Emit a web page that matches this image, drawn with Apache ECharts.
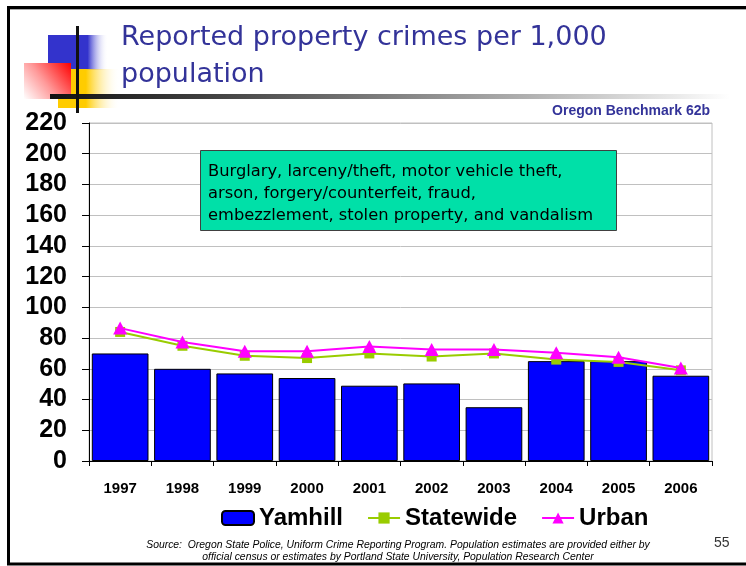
<!DOCTYPE html>
<html>
<head>
<meta charset="utf-8">
<script src="https://cdn.jsdelivr.net/npm/echarts@6/dist/echarts.min.js"></script>
<style>
  html, body { margin: 0; padding: 0; background: #fff; }
  #chart { width: 746px; height: 566px; }
</style>
</head>
<body>
<div id="chart"></div>
<script>
// Reported property crimes per 1,000 population, 1997-2006
const years = ['1997', '1998', '1999', '2000', '2001', '2002', '2003', '2004', '2005', '2006'];
const yamhill = [70, 60, 57, 54, 49, 50.5, 35, 65, 65, 55.5];
const statewide = [84, 75, 68.5, 67, 70, 68, 70, 66, 64.5, 59];
const urban = [86.5, 77.5, 71.5, 71.5, 74.5, 72.5, 72.5, 70.5, 67.5, 60.5];
const yTicks = { min: 0, max: 220, interval: 20 };

const titleLines = ['Reported property crimes per 1,000', 'population'];
const benchmark = 'Oregon Benchmark 62b';
const noteLines = [
  'Burglary, larceny/theft, motor vehicle theft,',
  'arson, forgery/counterfeit, fraud,',
  'embezzlement, stolen property, and vandalism'
];
const sourceLines = [
  'Source:  Oregon State Police, Uniform Crime Reporting Program. Population estimates are provided either by',
  'official census or estimates by Portland State University, Population Research Center'
];
const pageNumber = '55';

const SANS = '"Liberation Sans", Arial, sans-serif';
const HUMANIST = '"DejaVu Sans", Verdana, sans-serif';
const chart = echarts.init(document.getElementById('chart'), null, { renderer: 'canvas' });

const fadeRight = (color, stop) => ({
  type: 'linear', x: 0, y: 0, x2: 1, y2: 0,
  colorStops: [
    { offset: 0, color: color },
    { offset: stop, color: color },
    { offset: 1, color: 'rgba(255,255,255,0)' }
  ]
});

chart.setOption({
  animation: false,
  backgroundColor: '#ffffff',
  grid: {
    left: 89, right: 34, top: 123, bottom: 105,
    show: true, borderColor: '#c0c0c0', borderWidth: 1, backgroundColor: 'transparent'
  },
  legend: {
    left: 216, top: 501,
    itemWidth: 32, itemHeight: 14, itemGap: 24,
    textStyle: { fontFamily: SANS, fontSize: 24, fontWeight: 'bold', color: '#000' },
    data: ['Yamhill', 'Statewide', 'Urban']
  },
  xAxis: {
    type: 'category',
    data: years,
    axisLine: { lineStyle: { color: '#000', width: 1 } },
    axisTick: { show: true, length: 5, lineStyle: { color: '#000' } },
    axisLabel: { fontFamily: SANS, fontSize: 15, fontWeight: 'bold', color: '#000', margin: 20 }
  },
  yAxis: {
    type: 'value',
    min: yTicks.min, max: yTicks.max, interval: yTicks.interval,
    axisLine: { show: true, lineStyle: { color: '#000', width: 1 } },
    axisTick: { show: true, length: 7, lineStyle: { color: '#000' } },
    axisLabel: { fontFamily: SANS, fontSize: 25, fontWeight: 'bold', color: '#000', margin: 22 },
    splitLine: { lineStyle: { color: '#c0c0c0', width: 1 } }
  },
  series: [
    {
      name: 'Yamhill', type: 'bar', data: yamhill,
      barCategoryGap: '9%',
      itemStyle: { color: '#0000ff', borderColor: '#000', borderWidth: 1 },
      z: 2
    },
    {
      name: 'Statewide', type: 'line', data: statewide,
      symbol: 'rect', symbolSize: 10, showAllSymbol: true,
      lineStyle: { color: '#99cc00', width: 2 },
      itemStyle: { color: '#99cc00' },
      z: 3
    },
    {
      name: 'Urban', type: 'line', data: urban,
      symbol: 'triangle', symbolSize: [14, 13], showAllSymbol: true,
      lineStyle: { color: '#ff00ff', width: 2 },
      itemStyle: { color: '#ff00ff' },
      z: 4
    }
  ],
  graphic: [
    // slide frame
    { type: 'polyline', silent: true, shape: { points: [[746, 7.5], [8.5, 7.5], [8.5, 564], [746, 564]] },
      style: { stroke: '#000', lineWidth: 3, fill: null } },
    { type: 'line', silent: true, shape: { x1: 10, y1: 9.5, x2: 746, y2: 9.5 },
      style: { stroke: '#aaaaaa', lineWidth: 1 } },
    // title ornament
    { type: 'rect', silent: true, shape: { x: 48, y: 35, width: 60, height: 35 },
      style: { fill: fadeRight('#3333cc', 0.66) } },
    { type: 'rect', silent: true, shape: { x: 58, y: 69, width: 62, height: 39 },
      style: { fill: fadeRight('#ffcc00', 0.45) } },
    { type: 'rect', silent: true, shape: { x: 24, y: 63, width: 47, height: 36 },
      style: { fill: { type: 'linear', x: 1, y: 0, x2: 0, y2: 1,
        colorStops: [{ offset: 0, color: '#ff0000' }, { offset: 0.55, color: '#ff9a9a' }, { offset: 1, color: '#ffffff' }] } } },
    { type: 'rect', silent: true, shape: { x: 50, y: 94, width: 680, height: 5 },
      style: { fill: { type: 'linear', x: 0, y: 0, x2: 1, y2: 0,
        colorStops: [{ offset: 0, color: '#111111' }, { offset: 0.25, color: '#444444' }, { offset: 0.7, color: '#b0b0b0' }, { offset: 1, color: '#ffffff' }] } } },
    { type: 'rect', silent: true, shape: { x: 76, y: 26, width: 3, height: 87 },
      style: { fill: '#111111' } },
    // title
    { type: 'text', silent: true, x: 121, y: 19,
      style: { text: titleLines.join('\n'), fill: '#333399', font: '27px ' + HUMANIST, lineHeight: 37 } },
    { type: 'text', silent: true, x: 710, y: 104,
      style: { text: benchmark, fill: '#333399', font: 'bold 14px ' + SANS, align: 'right' } },
    // category note
    { type: 'rect', silent: true, z: 10, shape: { x: 200.5, y: 150.5, width: 416, height: 80 },
      style: { fill: '#00e0a8', stroke: '#404040', lineWidth: 1 } },
    { type: 'text', silent: true, z: 11, x: 208, y: 161,
      style: { text: noteLines.join('\n'), fill: '#000', font: '16.3px ' + HUMANIST, lineHeight: 22 } },
    // source and page number
    { type: 'text', silent: true, x: 398, y: 539,
      style: { text: sourceLines.join('\n'), fill: '#000', font: 'italic 10.4px ' + SANS, lineHeight: 12, align: 'center' } },
    { type: 'text', silent: true, x: 714, y: 536,
      style: { text: pageNumber, fill: '#333', font: '14px ' + SANS } }
  ]
});
</script>
</body>
</html>
